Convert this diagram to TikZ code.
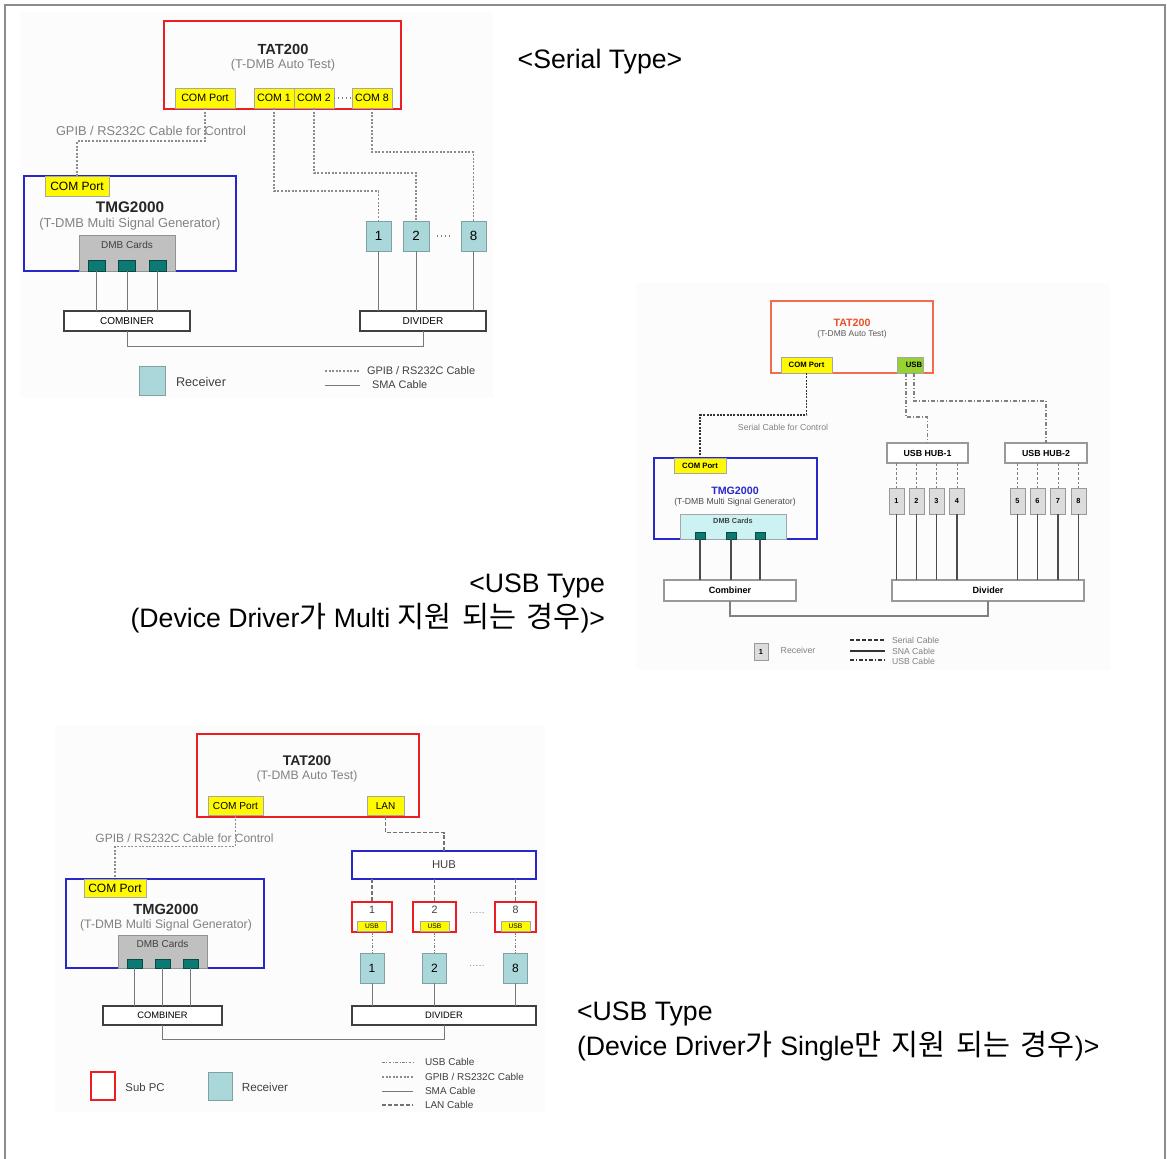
\documentclass[tikz,border=0pt]{standalone}
\usepackage{fontspec}
\setmainfont{Liberation Sans}
\newfontfamily\kr[Scale=1.1, WordSpace=1.6]{Noto Sans CJK KR}
\usetikzlibrary{calc}
\definecolor{redc}{RGB}{236,30,36}
\definecolor{bluec}{RGB}{40,40,200}
\definecolor{yel}{RGB}{255,250,0}
\definecolor{portc}{RGB}{12,122,114}
\definecolor{recc}{RGB}{170,216,218}
\definecolor{recb}{RGB}{130,160,162}
\definecolor{cardg}{RGB}{192,192,192}
\definecolor{lineg}{RGB}{120,120,120}
\definecolor{subg}{RGB}{130,130,130}
\definecolor{bgc}{RGB}{252,252,252}
\definecolor{orc}{RGB}{240,110,75}
\definecolor{ortx}{RGB}{232,80,42}
\definecolor{usbg}{RGB}{150,210,50}
\definecolor{cyanc}{RGB}{204,242,244}
\definecolor{recg}{RGB}{220,220,220}
\definecolor{frame}{RGB}{140,140,140}
\newcommand\myfs[1]{\fontsize{#1}{#1}\selectfont}
\begin{document}
\begin{tikzpicture}[x=0.75pt,y=-0.75pt,
 bx/.style 2 args={rectangle, minimum width=#1*0.75pt, minimum height=#2*0.75pt, inner sep=0pt, outer sep=0pt},
 lbl/.style={inner sep=0pt, outer sep=0pt},
 redbox/.style={draw=redc, line width=1.5pt},
 bluebox/.style={draw=bluec, line width=1.5pt},
 yelbox/.style={fill=yel, draw=gray!70, line width=0.5pt},
 port/.style={fill=portc, draw=portc!60!black, line width=0.4pt},
 recv/.style={fill=recc, draw=recb, line width=0.6pt},
 cards/.style={fill=cardg, draw=gray!85, line width=0.6pt},
 wbox/.style={fill=white, draw=black!75, line width=1pt},
 sma/.style={draw=lineg, line width=0.75pt},
 gpib/.style={draw=gray!90, line width=0.85pt, dash pattern=on 1.5pt off 1.2pt},
 serial/.style={draw=black!80, line width=1.3pt, dash pattern=on 1.5pt off 1pt},
 usbc/.style={draw=gray, line width=0.8pt, dash pattern=on 3pt off 1.5pt on 0.8pt off 1.5pt},
 hubd/.style={draw=gray, line width=0.7pt, dash pattern=on 2pt off 1.5pt},
 lanc/.style={draw=gray!90!black, line width=0.9pt, dash pattern=on 3pt off 1.5pt},
 usb3/.style={draw=gray, line width=0.6pt, dash pattern=on 2pt off 1.2pt on 0.6pt off 1.2pt},
 dk/.style={draw=black!70, line width=0.8pt}
]
\useasboundingbox (0,0) rectangle (1167,1159);
% frame
\draw[frame, line width=2pt] (5,1159) -- (5,5) -- (1165,5) -- (1165,1159);

%================ TOP: Serial Type =================
\fill[bgc] (20,12) rectangle (493,398);
\node[bx={237}{88}, redbox] (tat1) at (282.5,65) {};
\node[lbl, font=\bfseries\myfs{11}, text=black!85] (tat1t) at (283,49) {TAT200};
\node[lbl, font=\myfs{9.5}, text=subg] (tat1s) at (283,65) {(T-DMB Auto Test)};
\node[bx={60}{20}, yelbox, font=\myfs{8}] (cp1) at (205,98) {COM Port};
\node[bx={40}{20}, yelbox, font=\myfs{8}] (c11) at (274,98) {COM 1};
\node[bx={40}{20}, yelbox, font=\myfs{8}] (c12) at (314,98) {COM 2};
\node[bx={40}{20}, yelbox, font=\myfs{8}] (c18) at (372,98) {COM 8};
\draw[dotted, line width=1pt, gray] (c12.east) -- (c18.west);

\node[lbl, font=\myfs{9.6}, text=subg] (gp1) at (151,131) {GPIB / RS232C Cable for Control};

\node[bx={212}{95}, bluebox] (tmg1) at (130,223.5) {};
\node[bx={64}{20}, yelbox, font=\myfs{9}] (tcp1) at (77,186) {COM Port};
\node[lbl, font=\bfseries\myfs{11.5}, text=black!85] (tmg1t) at (130,207) {TMG2000};
\node[lbl, font=\myfs{9.7}, text=subg] (tmg1s) at (130,224) {(T-DMB Multi Signal Generator)};
\node[bx={96}{36}, cards] (dmb1) at (127,253) {};
\node[lbl, font=\myfs{7.5}, text=black!75] (dmb1t) at (127,245) {DMB Cards};
\node[bx={17}{11}, port] (p11) at (96.5,265.5) {};
\node[bx={17}{11}, port] (p12) at (127,265.5) {};
\node[bx={17}{11}, port] (p13) at (157.5,265.5) {};

\node[bx={126}{20}, wbox, font=\myfs{7.5}] (comb1) at (127,321) {COMBINER};
\node[bx={126}{20}, wbox, font=\myfs{7.5}] (div1) at (423,321) {DIVIDER};

\node[bx={25}{30}, recv, font=\myfs{10}] (r11) at (378.5,236) {1};
\node[bx={26}{30}, recv, font=\myfs{10}] (r12) at (416,236) {2};
\node[bx={25}{30}, recv, font=\myfs{10}] (r18) at (473.5,236) {8};
\draw[dotted, line width=1pt, gray] ($(r12.east)+(8,0)$) -- ($(r18.west)+(-8,0)$);

% connectors
\draw[gpib] (cp1.south) -- ++(0,33) -| (tcp1.north);
\draw[gpib] (c11.south) -- ++(0,83) -| (r11.north);
\draw[gpib] (c12.south) -- ++(0,65) -| (r12.north);
\draw[gpib] (c18.south) -- ++(0,44) -| (r18.north);
\foreach \p in {p11,p12,p13} \draw[sma] (\p.south) -- (\p.south |- comb1.north);
\foreach \r in {r11,r12,r18} \draw[sma] (\r.south) -- (\r.south |- div1.north);
\draw[sma] (comb1.south) -- ++(0,15) -| (div1.south);

% legend
\node[bx={26}{29}, recv] (lr1) at (152,380.5) {};
\node[lbl, font=\myfs{9.5}, text=black!75] (lr1t) at (201,382) {Receiver};
\coordinate (lg1a) at (325,371); \coordinate (lg1b) at (360,371);
\coordinate (lg1c) at (325,385); \coordinate (lg1d) at (360,385);
\draw[gpib] (lg1a) -- (lg1b);
\draw[sma] (lg1c) -- (lg1d);
\node[lbl, anchor=west, font=\myfs{8.2}, text=black!75] (lg1t1) at (367,371) {GPIB / RS232C Cable};
\node[lbl, anchor=west, font=\myfs{8.2}, text=black!75] (lg1t2) at (372,385) {SMA Cable};

\node[lbl, font=\myfs{20}] (title1) at (600,62) {<Serial Type>};

%================ MIDDLE: USB Type (Multi) =================
\fill[bgc] (636,283) rectangle (1110,670);
\node[bx={162}{72}, draw=orc, line width=1.2pt] (tat2) at (852,337) {};
\node[lbl, font=\bfseries\myfs{8}, text=ortx] (tat2t) at (852,323) {TAT200};
\node[lbl, font=\myfs{6.3}, text=black!65] (tat2s) at (852,334) {(T-DMB Auto Test)};
\node[bx={51}{16}, yelbox, font=\bfseries\myfs{5.8}] (cp2) at (806.5,365) {COM Port};
\node[bx={26}{16}, fill=usbg, draw=gray!70, line width=0.5pt, font=\bfseries\myfs{5.8}] (usb2) at (910,365) {\hspace{6pt}USB};

\node[lbl, font=\myfs{6.5}, text=subg] (ser2t) at (783,427) {Serial Cable for Control};

\node[bx={81}{20}, fill=white, draw=gray!80, line width=0.8pt, font=\bfseries\myfs{6.6}] (hub1) at (927.5,453) {USB HUB-1};
\node[bx={82}{20}, fill=white, draw=gray!80, line width=0.8pt, font=\bfseries\myfs{6.6}] (hub2) at (1046,453) {USB HUB-2};

\node[bx={163}{81}, draw=bluec, line width=1.2pt] (tmg2) at (735.5,498.5) {};
\node[bx={52}{15}, yelbox, font=\bfseries\myfs{5.8}] (tcp2) at (700,465.5) {COM Port};
\node[lbl, font=\bfseries\myfs{8}, text=bluec] (tmg2t) at (735,491) {TMG2000};
\node[lbl, font=\myfs{6.5}, text=black!70] (tmg2s) at (735,502) {(T-DMB Multi Signal Generator)};
\node[bx={106}{25}, fill=cyanc, draw=gray!70, line width=0.6pt] (dmb2) at (733,526.5) {};
\node[lbl, font=\bfseries\myfs{5.5}, text=black!75] (dmb2t) at (733,521) {DMB Cards};
\node[bx={10}{7}, port] (p21) at (700,535.5) {};
\node[bx={10}{7}, port] (p22) at (731,535.5) {};
\node[bx={10}{7}, port] (p23) at (760,535.5) {};

\node[bx={132}{21}, fill=white, draw=gray!80, line width=0.8pt, font=\bfseries\myfs{6.8}] (comb2) at (730,590.5) {Combiner};
\node[bx={192}{21}, fill=white, draw=gray!80, line width=0.8pt, font=\bfseries\myfs{6.8}] (div2) at (988,590.5) {Divider};

\foreach \n/\x in {1/896.5,2/916.5,3/936.5,4/957,5/1017.5,6/1037.5,7/1058,8/1078.5}
  \node[bx={15}{26}, fill=recg, draw=gray!80, line width=0.6pt, font=\bfseries\myfs{5.5}] (r2\n) at (\x,501) {\n};

\draw[serial] (cp2.south) -- ++(0,42) -| (tcp2.north);
\draw[usbc] ($(usb2.south)+(-4,0)$) -- ++(0,44) -| (hub1.north);
\draw[usbc] ($(usb2.south)+(4,0)$) -- ++(0,28) -| (hub2.north);
\foreach \n in {1,2,3,4} \draw[hubd] (r2\n.north |- hub1.south) -- (r2\n.north);
\foreach \n in {5,6,7,8} \draw[hubd] (r2\n.north |- hub2.south) -- (r2\n.north);
\foreach \n in {1,...,8} \draw[dk] (r2\n.south) -- (r2\n.south |- div2.north);
\foreach \p in {p21,p22,p23} \draw[dk] (\p.south) -- (\p.south |- comb2.north);
\draw[draw=gray, line width=0.8pt] (comb2.south) -- ++(0,15) -| (div2.south);

% legend
\node[bx={14}{17}, fill=recg, draw=gray!80, line width=0.6pt, font=\bfseries\myfs{5.5}] (lr2) at (761,651.5) {1};
\node[lbl, font=\myfs{6.6}, text=subg] (lr2t) at (798,650) {Receiver};
\coordinate (lg2a) at (850,640); \coordinate (lg2b) at (885,640);
\coordinate (lg2c) at (850,651); \coordinate (lg2d) at (885,651);
\coordinate (lg2e) at (850,660); \coordinate (lg2f) at (885,660);
\draw[draw=black!80, line width=1.1pt, dash pattern=on 3pt off 1.5pt] (lg2a) -- (lg2b);
\draw[draw=black!80, line width=1.1pt] (lg2c) -- (lg2d);
\draw[draw=black!80, line width=1.1pt, dash pattern=on 3pt off 1.5pt on 1pt off 1.5pt] (lg2e) -- (lg2f);
\node[lbl, anchor=west, font=\myfs{6.5}, text=subg] (lg2t1) at (892,640) {Serial Cable};
\node[lbl, anchor=west, font=\myfs{6.5}, text=subg] (lg2t2) at (892,651) {SNA Cable};
\node[lbl, anchor=west, font=\myfs{6.5}, text=subg] (lg2t3) at (892,661) {USB Cable};

\node[lbl, anchor=east, font=\myfs{20}] (title2a) at (605,586) {<USB Type};
\node[lbl, anchor=east, font=\myfs{20}] (title2b) at (605,618) {(Device Driver{\kr 가} Multi {\kr 지원 되는 경우})>};

%================ BOTTOM: USB Type (Single) =================
\fill[bgc] (55,725) rectangle (545,1112);
\node[bx={222}{83}, redbox] (tat3) at (308,775.5) {};
\node[lbl, font=\bfseries\myfs{10.5}, text=black!85] (tat3t) at (307,761) {TAT200};
\node[lbl, font=\myfs{9.2}, text=subg] (tat3s) at (307,776) {(T-DMB Auto Test)};
\node[bx={55}{19}, yelbox, font=\myfs{7.6}] (cp3) at (235.5,806) {COM Port};
\node[bx={37}{19}, yelbox, font=\myfs{7.5}] (lan3) at (385.5,806) {LAN};

\node[lbl, font=\myfs{9}, text=subg] (gp3) at (184.5,838) {GPIB / RS232C Cable for Control};

\node[bx={198}{89}, bluebox] (tmg3) at (165,923.5) {};
\node[bx={62}{18}, yelbox, font=\myfs{9}] (tcp3) at (115,888) {COM Port};
\node[lbl, font=\bfseries\myfs{11}, text=black!85] (tmg3t) at (166,909) {TMG2000};
\node[lbl, font=\myfs{9.2}, text=subg] (tmg3s) at (166,925) {(T-DMB Multi Signal Generator)};
\node[bx={89}{33}, cards] (dmb3) at (162.5,951.5) {};
\node[lbl, font=\myfs{7.5}, text=black!75] (dmb3t) at (162.5,944) {DMB Cards};
\node[bx={15}{9}, port] (p31) at (134.5,963.5) {};
\node[bx={15}{9}, port] (p32) at (162.5,963.5) {};
\node[bx={15}{9}, port] (p33) at (190.5,963.5) {};

\node[bx={119}{19}, wbox, font=\myfs{7}] (comb3) at (162.5,1015.5) {COMBINER};
\node[bx={184}{19}, wbox, font=\myfs{7}] (div3) at (444,1015.5) {DIVIDER};

\node[bx={184}{28}, fill=white, draw=bluec, line width=1.4pt, font=\myfs{8.5}, text=black!75] (hub3) at (444,865) {HUB};

\foreach \n/\x/\w in {1/372/40,2/434.5/43,8/515.5/41}{
  \node[bx={\w}{30}, fill=white, draw=redc, line width=1.3pt] (s\n) at (\x,917) {};
  \node[lbl, font=\myfs{8}, text=black!75] (s\n t) at (\x,910) {\n};
  \node[bx={29}{10}, yelbox, font=\myfs{5}] (u\n) at (\x,926) {USB};
  \node[bx={24}{30}, recv, font=\myfs{9}] (r3\n) at (\x,968) {\n};
}
\node[lbl, font=\myfs{7}, text=gray] (d3a) at (477,914) {·····};
\node[lbl, font=\myfs{7}, text=gray] (d3b) at (477,967) {·····};

\draw[gpib] (cp3.south) -- ++(0,31) -| (tcp3.north);
\draw[lanc] (lan3.south) -- ++(0,17) -| (hub3.north);
\foreach \n in {1,2,8} {
  \draw[lanc] (s\n.north |- hub3.south) -- (s\n.north);
  \draw[usb3] (s\n.south) -- (r3\n.north);
  \draw[sma] (r3\n.south) -- (r3\n.south |- div3.north);
}
\foreach \p in {p31,p32,p33} \draw[sma] (\p.south) -- (\p.south |- comb3.north);
\draw[sma] (comb3.south) -- ++(0,14) -| (div3.south);

% legend
\node[bx={24}{28}, fill=white, draw=redc, line width=1.3pt] (ls3) at (103,1086) {};
\node[lbl, font=\myfs{8.5}, text=black!75] (ls3t) at (145,1087) {Sub PC};
\node[bx={24}{28}, recv] (lr3) at (220,1086) {};
\node[lbl, font=\myfs{8.8}, text=black!75] (lr3t) at (265,1087) {Receiver};
\coordinate (lg3a) at (382,1062); \coordinate (lg3b) at (413,1062);
\coordinate (lg3c) at (382,1077); \coordinate (lg3d) at (413,1077);
\coordinate (lg3e) at (382,1091); \coordinate (lg3f) at (413,1091);
\coordinate (lg3g) at (382,1105); \coordinate (lg3h) at (413,1105);
\draw[usb3] (lg3a) -- (lg3b);
\draw[gpib] (lg3c) -- (lg3d);
\draw[sma] (lg3e) -- (lg3f);
\draw[lanc] (lg3g) -- (lg3h);
\node[lbl, anchor=west, font=\myfs{7.5}, text=black!75] (lg3t1) at (425,1062) {USB Cable};
\node[lbl, anchor=west, font=\myfs{7.5}, text=black!75] (lg3t2) at (425,1077) {GPIB / RS232C Cable};
\node[lbl, anchor=west, font=\myfs{7.5}, text=black!75] (lg3t3) at (425,1091) {SMA Cable};
\node[lbl, anchor=west, font=\myfs{7.5}, text=black!75] (lg3t4) at (425,1105) {LAN Cable};

\node[lbl, anchor=west, font=\myfs{20}] (title3a) at (577,1014) {<USB Type};
\node[lbl, anchor=west, font=\myfs{20}] (title3b) at (577,1046) {(Device Driver{\kr 가} Single{\kr 만 지원 되는 경우})>};
\end{tikzpicture}
\end{document}
